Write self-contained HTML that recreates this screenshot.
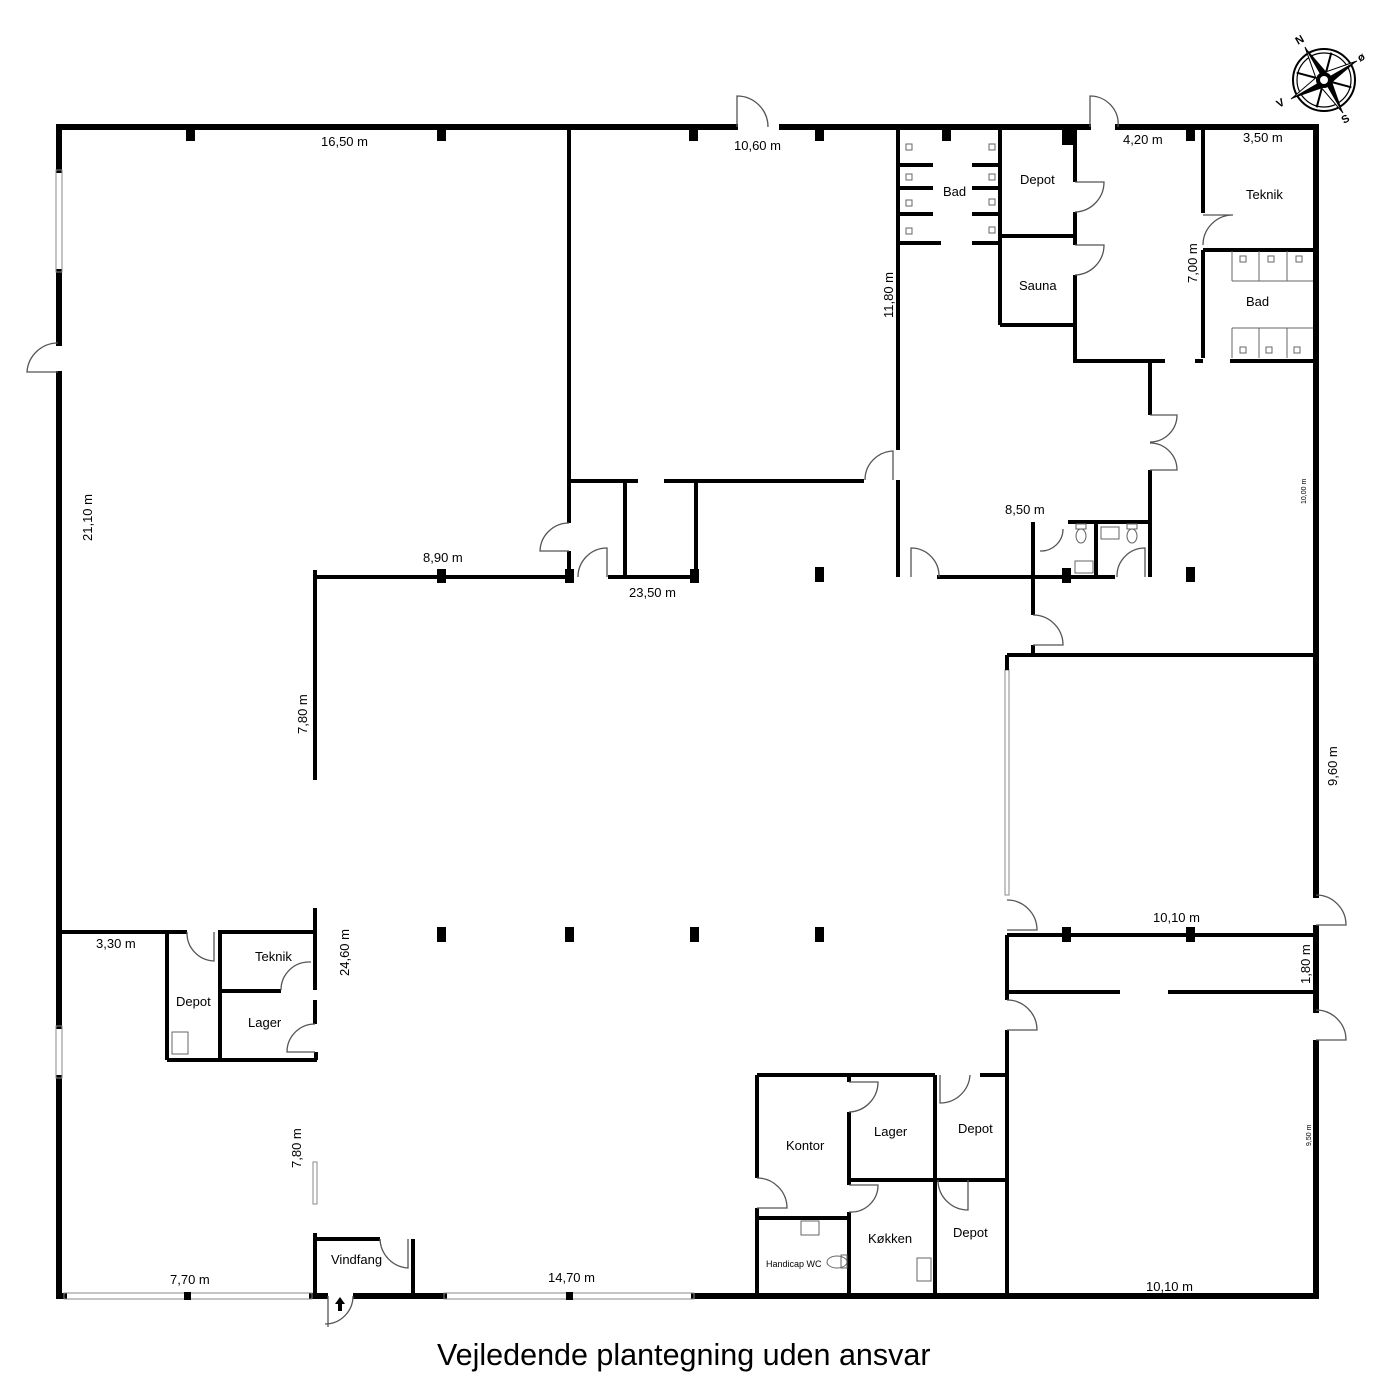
<!DOCTYPE html>
<html><head><meta charset="utf-8"><style>
html,body{margin:0;padding:0;background:#fff}
svg{display:block}
text{font-family:"Liberation Sans",Arial,sans-serif;fill:#000}
</style></head><body>
<svg width="1400" height="1400" viewBox="0 0 1400 1400" xmlns="http://www.w3.org/2000/svg">
<g stroke="#000" stroke-width="6" stroke-linecap="square" fill="none">
<line x1="59" y1="127" x2="735" y2="127"/>
<line x1="782" y1="127" x2="1088" y2="127"/>
<line x1="1118" y1="127" x2="1316" y2="127"/>
<line x1="59" y1="127" x2="59" y2="170"/>
<line x1="59" y1="272" x2="59" y2="343"/>
<line x1="59" y1="374" x2="59" y2="1026"/>
<line x1="59" y1="1078" x2="59" y2="1296"/>
<line x1="1316" y1="127" x2="1316" y2="895"/>
<line x1="1316" y1="928" x2="1316" y2="1010"/>
<line x1="1316" y1="1043" x2="1316" y2="1296"/>
<line x1="59" y1="1296" x2="64" y2="1296"/>
<line x1="312" y1="1296" x2="325" y2="1296"/>
<line x1="356" y1="1296" x2="444" y2="1296"/>
<line x1="694" y1="1296" x2="1316" y2="1296"/>
</g>
<g stroke="#888" stroke-width="1" fill="none">
<rect x="56" y="170" width="6" height="102"/>
<rect x="56" y="1026" width="6" height="52"/>
<rect x="64" y="1293" width="248" height="6"/>
<rect x="444" y="1293" width="250" height="6"/>
<rect x="1005" y="670" width="4" height="225"/>
<rect x="313" y="1162" width="4" height="42"/>
</g>
<g fill="#000">
<rect x="184" y="1292" width="7" height="8"/>
<rect x="566" y="1292" width="7" height="8"/>
<rect x="186" y="130" width="9" height="11"/>
<rect x="437" y="130" width="9" height="11"/>
<rect x="689" y="130" width="9" height="11"/>
<rect x="815" y="130" width="9" height="11"/>
<rect x="942" y="130" width="9" height="11"/>
<rect x="1062" y="130" width="12" height="15"/>
<rect x="1186" y="130" width="9" height="11"/>
<rect x="437" y="569" width="9" height="14"/>
<rect x="565" y="569" width="9" height="14"/>
<rect x="690" y="569" width="9" height="14"/>
<rect x="815" y="567" width="9" height="15"/>
<rect x="1062" y="568" width="9" height="15"/>
<rect x="1186" y="567" width="9" height="15"/>
<rect x="437" y="927" width="9" height="15"/>
<rect x="565" y="927" width="9" height="15"/>
<rect x="690" y="927" width="9" height="15"/>
<rect x="815" y="927" width="9" height="15"/>
<rect x="1062" y="927" width="9" height="15"/>
<rect x="1186" y="927" width="9" height="15"/>
</g>
<g stroke="#000" stroke-width="4" fill="none">
<line x1="569" y1="127" x2="569" y2="523"/>
<line x1="569" y1="551" x2="569" y2="578"/>
<line x1="569" y1="481" x2="638" y2="481"/>
<line x1="664" y1="481" x2="864" y2="481"/>
<line x1="625" y1="481" x2="625" y2="577"/>
<line x1="696" y1="481" x2="696" y2="577"/>
<line x1="315" y1="577" x2="570" y2="577"/>
<line x1="608" y1="577" x2="696" y2="577"/>
<line x1="315" y1="570" x2="315" y2="780"/>
<line x1="898" y1="127" x2="898" y2="450"/>
<line x1="898" y1="480" x2="898" y2="577"/>
<line x1="937" y1="577" x2="1115" y2="577"/>
<line x1="1033" y1="522" x2="1033" y2="615"/>
<line x1="1033" y1="645" x2="1033" y2="655"/>
<line x1="1068" y1="522" x2="1150" y2="522"/>
<line x1="1096" y1="522" x2="1096" y2="577"/>
<line x1="1150" y1="363" x2="1150" y2="415"/>
<line x1="1150" y1="470" x2="1150" y2="577"/>
<line x1="1075" y1="127" x2="1075" y2="182"/>
<line x1="1075" y1="212" x2="1075" y2="245"/>
<line x1="1075" y1="275" x2="1075" y2="363"/>
<line x1="1075" y1="361" x2="1165" y2="361"/>
<line x1="1195" y1="361" x2="1203" y2="361"/>
<line x1="1230" y1="361" x2="1316" y2="361"/>
<line x1="1000" y1="127" x2="1000" y2="325"/>
<line x1="1000" y1="236" x2="1075" y2="236"/>
<line x1="1000" y1="325" x2="1075" y2="325"/>
<line x1="1203" y1="127" x2="1203" y2="213"/>
<line x1="1203" y1="250" x2="1203" y2="358"/>
<line x1="1203" y1="250" x2="1316" y2="250"/>
<line x1="900" y1="165" x2="933" y2="165"/>
<line x1="900" y1="188" x2="933" y2="188"/>
<line x1="900" y1="214" x2="933" y2="214"/>
<line x1="900" y1="243" x2="941" y2="243"/>
<line x1="972" y1="165" x2="1000" y2="165"/>
<line x1="972" y1="188" x2="1000" y2="188"/>
<line x1="972" y1="214" x2="1000" y2="214"/>
<line x1="972" y1="243" x2="1000" y2="243"/>
<line x1="1007" y1="655" x2="1316" y2="655"/>
<line x1="1007" y1="655" x2="1007" y2="670"/>
<line x1="1007" y1="935" x2="1007" y2="1000"/>
<line x1="1007" y1="1030" x2="1007" y2="1296"/>
<line x1="1007" y1="935" x2="1316" y2="935"/>
<line x1="1007" y1="992" x2="1120" y2="992"/>
<line x1="1168" y1="992" x2="1316" y2="992"/>
<line x1="59" y1="932" x2="187" y2="932"/>
<line x1="218" y1="932" x2="315" y2="932"/>
<line x1="315" y1="908" x2="315" y2="990"/>
<line x1="315" y1="1000" x2="315" y2="1024"/>
<line x1="167" y1="932" x2="167" y2="1060"/>
<line x1="220" y1="932" x2="220" y2="1060"/>
<line x1="220" y1="991" x2="281" y2="991"/>
<line x1="167" y1="1060" x2="317" y2="1060"/>
<line x1="316" y1="1052" x2="316" y2="1060"/>
<line x1="315" y1="1233" x2="315" y2="1296"/>
<line x1="315" y1="1239" x2="380" y2="1239"/>
<line x1="413" y1="1239" x2="413" y2="1296"/>
<line x1="757" y1="1075" x2="935" y2="1075"/>
<line x1="980" y1="1075" x2="1007" y2="1075"/>
<line x1="757" y1="1075" x2="757" y2="1178"/>
<line x1="757" y1="1208" x2="757" y2="1296"/>
<line x1="757" y1="1218" x2="849" y2="1218"/>
<line x1="849" y1="1075" x2="849" y2="1082"/>
<line x1="849" y1="1112" x2="849" y2="1185"/>
<line x1="849" y1="1212" x2="849" y2="1296"/>
<line x1="849" y1="1180" x2="1007" y2="1180"/>
<line x1="935" y1="1075" x2="935" y2="1296"/>
</g>
<g stroke="#555" stroke-width="1.3" fill="none">
<path d="M737 127 V96 A31 31 0 0 1 768 127"/>
<path d="M1090 127 V96 A28 28 0 0 1 1118 127"/>
<path d="M58 343 A31 31 0 0 0 27 372 H58"/>
<path d="M1075 182 H1104 A30 30 0 0 1 1075 212"/>
<path d="M1075 245 H1104 A30 30 0 0 1 1075 275"/>
<path d="M1203 245 A30 30 0 0 1 1233 215 H1203"/>
<path d="M1150 415 H1177 A27 27 0 0 1 1150 442"/>
<path d="M1150 470 H1177 A27 27 0 0 0 1150 443"/>
<path d="M893 480 V451 A29 29 0 0 0 865 480"/>
<path d="M569 523 A29 29 0 0 0 540 551 H569"/>
<path d="M607 577 V548 A29 29 0 0 0 578 577"/>
<path d="M911 577 V548 A28 28 0 0 1 939 577"/>
<path d="M1040 551 A22 22 0 0 0 1063 529"/>
<path d="M1145 577 V548 A28 28 0 0 0 1117 577"/>
<path d="M1033 615 A30 30 0 0 1 1063 645 H1033"/>
<path d="M1007 900 A30 30 0 0 1 1037 930 H1007"/>
<path d="M1007 1000 A30 30 0 0 1 1037 1030 H1007"/>
<path d="M1316 895 A30 30 0 0 1 1346 925 H1316"/>
<path d="M1316 1010 A30 30 0 0 1 1346 1040 H1316"/>
<path d="M187 932 A28 28 0 0 0 214 961 V932"/>
<path d="M311 962 H308 A28 28 0 0 0 281 990"/>
<path d="M315 1024 A28 28 0 0 0 287 1052 H315"/>
<path d="M380 1239 A30 30 0 0 0 408 1268 V1239"/>
<path d="M328 1296 V1327"/><path d="M353 1296 A28 28 0 0 1 325 1324"/>
<path d="M757 1178 A30 30 0 0 1 787 1208 H757"/>
<path d="M849 1082 H878 A30 30 0 0 1 849 1112"/>
<path d="M849 1185 H878 A27 27 0 0 1 849 1212"/>
<path d="M940 1075 V1103 A30 30 0 0 0 970 1075"/>
<path d="M968 1180 V1210 A30 30 0 0 1 938 1180"/>
</g>
<g stroke="#666" stroke-width="1" fill="none">
<rect x="906" y="144" width="6" height="6"/><rect x="906" y="174" width="6" height="6"/><rect x="906" y="200" width="6" height="6"/><rect x="906" y="228" width="6" height="6"/>
<rect x="989" y="144" width="6" height="6"/><rect x="989" y="174" width="6" height="6"/><rect x="989" y="199" width="6" height="6"/><rect x="989" y="227" width="6" height="6"/>
<path d="M1232 281 V251 M1259 251 V281 M1287 251 V281 M1232 281 H1313"/>
<path d="M1232 328 V358 M1259 328 V358 M1287 328 V358 M1232 328 H1313"/>
<rect x="1240" y="256" width="6" height="6"/><rect x="1268" y="256" width="6" height="6"/><rect x="1296" y="256" width="6" height="6"/>
<rect x="1240" y="347" width="6" height="6"/><rect x="1266" y="347" width="6" height="6"/><rect x="1294" y="347" width="6" height="6"/>
<ellipse cx="1081" cy="536" rx="5" ry="7"/><rect x="1076" y="524" width="10" height="5"/>
<ellipse cx="1132" cy="536" rx="5" ry="7"/><rect x="1127" y="524" width="10" height="5"/>
<rect x="1101" y="527" width="18" height="12"/><rect x="1075" y="561" width="18" height="12"/>
<rect x="172" y="1032" width="16" height="22"/>
<rect x="801" y="1221" width="18" height="14"/>
<ellipse cx="837" cy="1262" rx="10" ry="6"/><rect x="841" y="1255" width="6" height="13"/>
<rect x="917" y="1258" width="14" height="23"/>
</g>
<path d="M340 1297 l-5 7 h3 v7 h4 v-7 h3 z" fill="#000"/>
<g transform="translate(1324,80)">
<circle r="31" fill="none" stroke="#000" stroke-width="2"/>
<circle r="27" fill="none" stroke="#000" stroke-width="1.2"/>
<g transform="rotate(-30)" fill="#000">
<path d="M0 0 L20 -20 L4 -4 Z M0 0 L-20 20 L-4 4Z M0 0 L20 20 L4 4Z M0 0 L-20 -20 L-4 -4Z" stroke="#000" stroke-width="2"/>
<path d="M0 -38 L6 -6 L0 0 Z"/><path d="M0 -38 L-6 -6 L0 0 Z" fill="#fff" stroke="#000" stroke-width="1"/>
<path d="M0 38 L6 6 L0 0 Z"/><path d="M0 38 L-6 6 L0 0 Z" fill="#fff" stroke="#000" stroke-width="1"/>
<path d="M38 0 L6 6 L0 0 Z"/><path d="M38 0 L6 -6 L0 0 Z" fill="#fff" stroke="#000" stroke-width="1"/>
<path d="M-38 0 L-6 6 L0 0 Z"/><path d="M-38 0 L-6 -6 L0 0 Z" fill="#fff" stroke="#000" stroke-width="1"/>
</g>
<circle r="8" fill="#000"/><circle r="4" fill="#fff"/>
<text x="-26" y="-35" font-size="11" font-weight="bold" transform="rotate(-30 -26 -35)">N</text>
<text x="36" y="-18" font-size="11" font-weight="bold" transform="rotate(-30 36 -18)">ø</text>
<text x="20" y="44" font-size="11" font-weight="bold" transform="rotate(-30 20 44)">S</text>
<text x="-45" y="28" font-size="11" font-weight="bold" transform="rotate(-30 -45 28)">V</text>
</g>
<g font-size="13">
<text x="321" y="146">16,50 m</text>
<text x="734" y="150">10,60 m</text>
<text x="1123" y="144">4,20 m</text>
<text x="1243" y="142">3,50 m</text>
<text x="943" y="196">Bad</text>
<text x="1020" y="184">Depot</text>
<text x="1019" y="290">Sauna</text>
<text x="1246" y="199">Teknik</text>
<text x="1246" y="306">Bad</text>
<text x="423" y="562">8,90 m</text>
<text x="629" y="597">23,50 m</text>
<text x="1005" y="514">8,50 m</text>
<text x="1153" y="922">10,10 m</text>
<text x="96" y="948">3,30 m</text>
<text x="255" y="961">Teknik</text>
<text x="176" y="1006">Depot</text>
<text x="248" y="1027">Lager</text>
<text x="331" y="1264">Vindfang</text>
<text x="170" y="1284">7,70 m</text>
<text x="548" y="1282">14,70 m</text>
<text x="786" y="1150">Kontor</text>
<text x="874" y="1136">Lager</text>
<text x="958" y="1133">Depot</text>
<text x="953" y="1237">Depot</text>
<text x="868" y="1243">Køkken</text>
<text x="1146" y="1291">10,10 m</text>
<text x="766" y="1267" font-size="9">Handicap WC</text>
<text transform="translate(92,541) rotate(-90)">21,10 m</text>
<text transform="translate(893,318) rotate(-90)">11,80 m</text>
<text transform="translate(307,734) rotate(-90)">7,80 m</text>
<text transform="translate(349,976) rotate(-90)">24,60 m</text>
<text transform="translate(301,1168) rotate(-90)">7,80 m</text>
<text transform="translate(1197,283) rotate(-90)">7,00 m</text>
<text transform="translate(1337,786) rotate(-90)">9,60 m</text>
<text transform="translate(1310,984) rotate(-90)">1,80 m</text>
<text transform="translate(1306,504) rotate(-90)" font-size="7">10,00 m</text>
<text transform="translate(1311,1146) rotate(-90)" font-size="7">9,50 m</text>
</g>
<text x="437" y="1365" font-size="30.5">Vejledende plantegning uden ansvar</text>
</svg>
</body></html>
